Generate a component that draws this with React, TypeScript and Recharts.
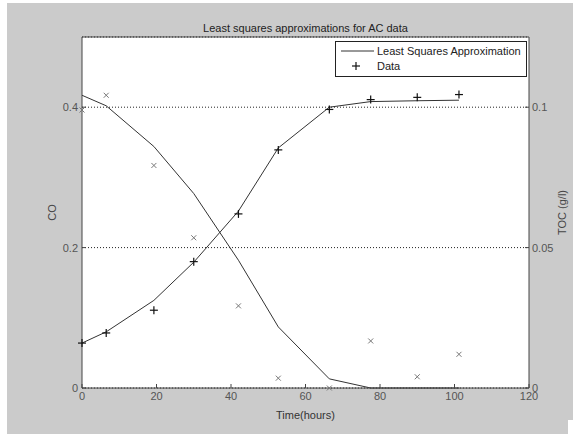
import {
  ComposedChart,
  Line,
  Scatter,
  XAxis,
  YAxis,
  CartesianGrid,
  Legend,
} from "recharts";

// sample times (hours)
const times = [0, 6.5, 19.3, 30, 42, 52.7, 66.4, 77.5, 90, 101.2];

// CO (left axis)
const coData = [0.396, 0.417, 0.317, 0.214, 0.117, 0.014, 0.0, 0.067, 0.016, 0.048];
const coFit = [0.417, 0.402, 0.344, 0.277, 0.182, 0.087, 0.013, 0.0, 0.0, 0.0];

// TOC g/l (right axis)
const tocData = [0.016, 0.0196, 0.0277, 0.045, 0.062, 0.0848, 0.0992, 0.1027, 0.1035, 0.1045];
const tocFit = [0.016, 0.02, 0.0312, 0.0448, 0.063, 0.0855, 0.1, 0.102, 0.1023, 0.1025];

const xTicks = [0, 20, 40, 60, 80, 100, 120];
const leftTicks = [0, 0.2, 0.4];
const rightTicks = [0, 0.05, 0.1];

const rows = times.map((t, i) => ({
  t,
  coData: coData[i],
  coFit: coFit[i],
  tocData: tocData[i],
  tocFit: tocFit[i],
}));

const FONT = "'Liberation Sans', Arial, sans-serif";
const tickStyle = { fontSize: 11, fontFamily: FONT, fill: "#555" };
const axisStroke = "#444";

const Plus = (p: any) => {
  if (p.cx == null || p.cy == null) return <g />;
  return (
    <g stroke="#111" strokeWidth={1.2}>
      <line x1={p.cx - 4} y1={p.cy} x2={p.cx + 4} y2={p.cy} />
      <line x1={p.cx} y1={p.cy - 4} x2={p.cx} y2={p.cy + 4} />
    </g>
  );
};

const Cross = (p: any) => {
  if (p.cx == null || p.cy == null) return <g />;
  return (
    <g stroke="#777" strokeWidth={1}>
      <line x1={p.cx - 2.5} y1={p.cy - 2.5} x2={p.cx + 2.5} y2={p.cy + 2.5} />
      <line x1={p.cx - 2.5} y1={p.cy + 2.5} x2={p.cx + 2.5} y2={p.cy - 2.5} />
    </g>
  );
};

const LegendBox = () => (
  <svg width={192} height={36} style={{ display: "block" }}>
    <rect x={0.5} y={0.5} width={191} height={35} fill="#fff" stroke="#222" />
    <line x1={6} y1={10} x2={39} y2={10} stroke="#333" />
    <text x={42} y={10} dy="0.35em" fontSize={11} fontFamily={FONT} fill="#222">
      Least Squares Approximation
    </text>
    <line x1={17} y1={25} x2={25} y2={25} stroke="#111" strokeWidth={1.2} />
    <line x1={21} y1={21} x2={21} y2={29} stroke="#111" strokeWidth={1.2} />
    <text x={42} y={25} dy="0.35em" fontSize={11} fontFamily={FONT} fill="#222">
      Data
    </text>
  </svg>
);

export default function App() {
  return (
    <div style={{ position: "fixed", left: 0, top: 0, width: 573, height: 434, background: "#fff" }}>
      <div style={{ position: "absolute", left: 7, top: 3 }}>
        <ComposedChart
          width={566}
          height={431}
          data={rows}
          margin={{ top: 4, right: 0, bottom: 0, left: 0 }}
          style={{ background: "#cbcbcb" }}
        >
          <CartesianGrid
            yAxisId="left"
            vertical={false}
            fill="#fff"
            stroke="#222"
            strokeDasharray="1 2"
          />
          <XAxis
            dataKey="t"
            type="number"
            domain={[0, 120]}
            ticks={xTicks}
            interval={0}
            height={46}
            tick={tickStyle}
            tickSize={-4}
            tickMargin={8}
            stroke={axisStroke}
            label={(p: any) => (
              <text
                x={p.viewBox.x + p.viewBox.width / 2}
                y={p.viewBox.y + 27}
                dy="0.35em"
                textAnchor="middle"
                fontSize={11}
                fontFamily={FONT}
                fill="#333"
              >
                Time(hours)
              </text>
            )}
          />
          <XAxis
            xAxisId="top"
            orientation="top"
            dataKey="t"
            type="number"
            domain={[0, 120]}
            ticks={xTicks}
            interval={0}
            height={30}
            tick={false}
            tickSize={-4}
            stroke={axisStroke}
            label={(p: any) => (
              <text
                x={p.viewBox.x + p.viewBox.width / 2}
                y={p.viewBox.y + 21}
                dy="0.35em"
                textAnchor="middle"
                fontSize={11}
                fontFamily={FONT}
                fill="#222"
              >
                Least squares approximations for AC data
              </text>
            )}
          />
          <YAxis
            yAxisId="left"
            domain={[0, 0.5]}
            ticks={leftTicks}
            interval={0}
            width={75}
            tick={tickStyle}
            tickSize={-4}
            tickMargin={8}
            stroke={axisStroke}
            label={(p: any) => (
              <text
                x={p.viewBox.x + 45}
                y={p.viewBox.y + p.viewBox.height / 2}
                textAnchor="middle"
                dy="0.35em"
                transform={`rotate(-90 ${p.viewBox.x + 45} ${p.viewBox.y + p.viewBox.height / 2})`}
                fontSize={11}
                fontFamily={FONT}
                fill="#444"
              >
                CO
              </text>
            )}
          />
          <YAxis
            yAxisId="right"
            orientation="right"
            domain={[0, 0.125]}
            ticks={rightTicks}
            interval={0}
            width={44}
            tick={tickStyle}
            tickSize={-4}
            tickMargin={7}
            stroke={axisStroke}
            label={(p: any) => (
              <text
                x={p.viewBox.x + 33}
                y={p.viewBox.y + p.viewBox.height / 2}
                textAnchor="middle"
                dy="0.35em"
                transform={`rotate(-90 ${p.viewBox.x + 33} ${p.viewBox.y + p.viewBox.height / 2})`}
                fontSize={11}
                fontFamily={FONT}
                fill="#444"
              >
                TOC (g/l)
              </text>
            )}
          />
          <Legend
            layout="horizontal"
            align="center"
            verticalAlign="middle"
            content={() => <LegendBox />}
            wrapperStyle={{ left: 328, top: 38, width: 192, height: 36 }}
          />
          <Line
            yAxisId="left"
            dataKey="coFit"
            type="linear"
            stroke="#333"
            strokeWidth={1}
            dot={false}
            isAnimationActive={false}
          />
          <Line
            yAxisId="right"
            dataKey="tocFit"
            type="linear"
            stroke="#333"
            strokeWidth={1}
            dot={false}
            isAnimationActive={false}
          />
          <Scatter yAxisId="left" dataKey="coData" shape={Cross} isAnimationActive={false} />
          <Scatter yAxisId="right" dataKey="tocData" shape={Plus} isAnimationActive={false} />
        </ComposedChart>
      </div>
      <div style={{ position: "absolute", left: 568, top: 420, width: 5, height: 14, background: "#fff" }} />
    </div>
  );
}
